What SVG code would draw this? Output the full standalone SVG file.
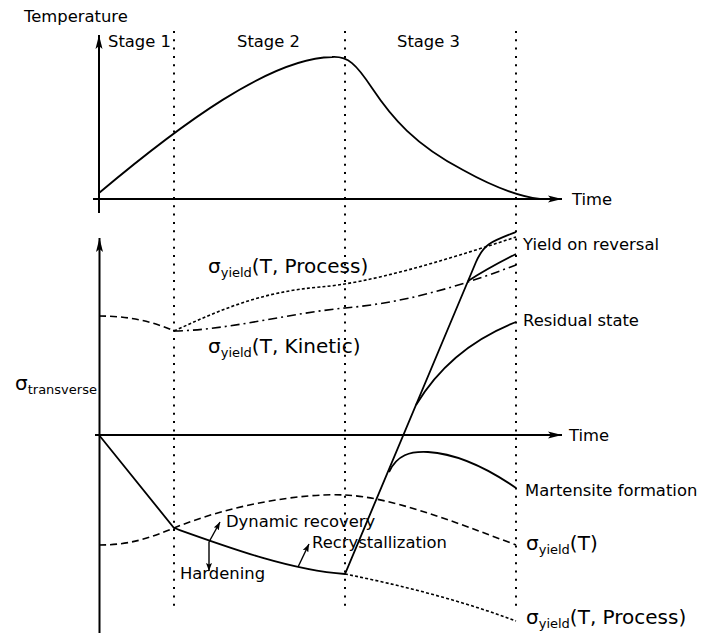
<svg xmlns="http://www.w3.org/2000/svg" width="701" height="634" viewBox="0 0 701 634">
<style>
text{font-family:"DejaVu Sans","Verdana",sans-serif;fill:#000}
.t16{font-size:16.4px}
.big{font-size:20px}
.sub{font-size:13px}
.ax{stroke:#000;stroke-width:2;fill:none}
.cv{stroke:#000;stroke-width:1.8;fill:none}
.stage{stroke:#000;stroke-width:2;stroke-dasharray:2 6.3;fill:none}
.dash{stroke:#000;stroke-width:1.6;stroke-dasharray:7 4;fill:none}
.dot{stroke:#000;stroke-width:1.6;stroke-dasharray:3 2.2;fill:none}
.dd{stroke:#000;stroke-width:1.6;stroke-dasharray:9 4 2 4;fill:none}
.ar{stroke:#000;stroke-width:1.4;fill:none}
</style>
<defs>
<marker id="axh" viewBox="0 0 14 8" refX="14" refY="4" markerWidth="14" markerHeight="8" markerUnits="userSpaceOnUse" orient="auto">
<path d="M0,0.5 L14,4 L0,7.5 L3,4 z" fill="#000"/>
</marker>
<marker id="smh" viewBox="0 0 8 6" refX="8" refY="3" markerWidth="8" markerHeight="6" markerUnits="userSpaceOnUse" orient="auto">
<path d="M0,0 L8,3 L0,6 L1.5,3 z" fill="#000"/>
</marker>
</defs>
<rect width="701" height="634" fill="#fff"/>

<g id="stage-lines">
<line class="stage" x1="174" y1="31" x2="174" y2="612"/>
<line class="stage" x1="345" y1="31" x2="345" y2="612"/>
<line class="stage" x1="516" y1="31" x2="516" y2="612"/>
</g>

<g id="top-chart">
<line class="ax" x1="99" y1="213" x2="99" y2="35" marker-end="url(#axh)"/>
<line class="ax" x1="93" y1="199" x2="562" y2="199" marker-end="url(#axh)"/>
<text class="t16" x="24" y="22">Temperature</text>
<text class="t16" x="572" y="205">Time</text>
<text class="t16" x="108" y="47">Stage 1</text>
<text class="t16" x="237" y="47">Stage 2</text>
<text class="t16" x="397" y="47">Stage 3</text>
<path id="temperature" class="cv" d="M99,193 C180,125 270,58 332,57 C348,56 356,64 372,88 C392,118 415,145 463,170 C490,185 515,196 540,199"/>
</g>

<g id="bottom-axes">
<line class="ax" x1="99.5" y1="633" x2="99.5" y2="238" marker-end="url(#axh)"/>
<line class="ax" x1="95" y1="435" x2="562" y2="435" marker-end="url(#axh)"/>
<text class="t16" x="569" y="441">Time</text>
<text x="15" y="390" class="big">σ<tspan class="sub" dy="4">transverse</tspan></text>
</g>

<g id="yield-curves">
<path class="dash" d="M99,316 C125,316 150,320 174,331"/>
<path class="dot" d="M174,331 C220,310 260,292 320,287 C370,283 440,262 516,237"/>
<path class="dd" d="M174,331 C230,330 290,313 345,308 C400,303 450,290 516,265"/>
<path class="dash" d="M99,545 C130,545 150,538 174,528 C230,505 300,493 345,495 C390,497 450,520 516,545"/>
<path class="dot" d="M345,574 C400,585 460,600 516,621"/>
</g>

<g id="stress-path">
<path class="cv" d="M99,435 L174,528 C230,548 290,570 345,574 L476,262 C484,244 490,242 516,232"/>
<path class="cv" d="M468,281 C485,270 500,262 516,254"/>
<path class="cv" d="M416,405 C440,365 475,338 516,322"/>
<path class="cv" d="M389,472 C397,455 410,451 428,452 C460,454 490,470 516,488"/>
</g>

<g id="connectors">
<line class="ar" x1="209" y1="542" x2="220" y2="522" marker-end="url(#smh)"/>
<line class="ar" x1="209" y1="542" x2="209" y2="571" marker-end="url(#smh)"/>
<line class="ar" x1="298" y1="567" x2="309" y2="544" marker-end="url(#smh)"/>
</g>

<g id="labels">
<text x="208" y="273" class="big">σ<tspan class="sub" dy="4">yield</tspan><tspan dy="-4">(T, Process)</tspan></text>
<text x="208" y="353" class="big">σ<tspan class="sub" dy="4">yield</tspan><tspan dy="-4">(T, Kinetic)</tspan></text>
<text class="t16" x="523" y="250">Yield on reversal</text>
<text class="t16" x="523" y="326">Residual state</text>
<text class="t16" x="525" y="496">Martensite formation</text>
<text x="526" y="550" class="big">σ<tspan class="sub" dy="4">yield</tspan><tspan dy="-4">(T)</tspan></text>
<text x="526" y="624" class="big">σ<tspan class="sub" dy="4">yield</tspan><tspan dy="-4">(T, Process)</tspan></text>
<text class="t16" x="226" y="527">Dynamic recovery</text>
<text class="t16" x="312" y="548">Recrystallization</text>
<text class="t16" x="180" y="579">Hardening</text>
</g>
</svg>
